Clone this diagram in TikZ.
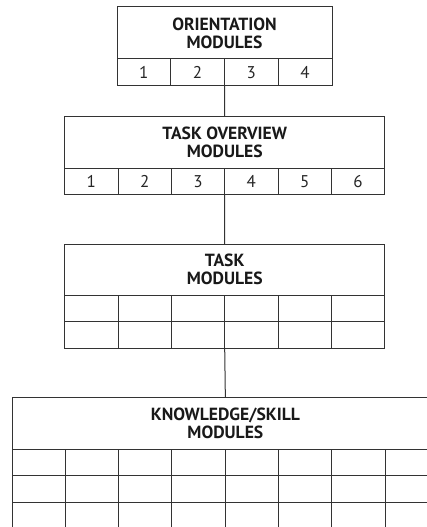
\documentclass[tikz,border=0pt]{standalone}
\usepackage{fontspec}
\setmainfont{PT Sans}
\begin{document}
\begin{tikzpicture}[x=1pt,y=-1pt,
  line width=1pt,
  every node/.style={inner sep=0pt,outer sep=0pt},
  titlebox/.style={draw=black!80,align=center,font=\fontsize{17.6}{18.3}\selectfont\bfseries,text=black!90},
  cell/.style={draw=black!80,minimum height=26.5pt,font=\fontsize{17}{18}\selectfont,text=black!85},
  link/.style={draw=black!80}]
\useasboundingbox (0,0) rectangle (427,527);
\clip (0,0) rectangle (427,527);
% Orientation
\node[titlebox,minimum width=215pt,minimum height=52pt] (ot) at (224.5,33) {ORIENTATION\\MODULES};
\foreach \i in {1,...,4}{
  \node[cell,minimum width=53.75pt] (o\i) at ({117+53.75*(\i-0.5)},72.25) {\i};
}
% Task overview
\node[titlebox,minimum width=320pt,minimum height=52pt] (vt) at (224.7,142) {TASK OVERVIEW\\MODULES};
\foreach \i in {1,...,6}{
  \node[cell,minimum width=53.33pt] (v\i) at ({64.7+53.33*(\i-0.5)},181.25) {\i};
}
% Task
\node[titlebox,minimum width=320pt,minimum height=51pt] (tt) at (224.7,269.5) {TASK\\MODULES};
\foreach \i in {1,...,6}{
  \node[cell,minimum width=53.33pt] (ta\i) at ({64.7+53.33*(\i-0.5)},308.25) {};
  \node[cell,minimum width=53.33pt] (tb\i) at ({64.7+53.33*(\i-0.5)},334.75) {};
}
% Knowledge/skill
\node[titlebox,minimum width=426.7pt,minimum height=52pt] (kt) at (225.35,423) {KNOWLEDGE/SKILL\\MODULES};
\foreach \i in {1,...,8}{
  \node[cell,minimum width=53.33pt] (ka\i) at ({12+53.33*(\i-0.5)},462.35) {};
  \node[cell,minimum width=53.33pt] (kb\i) at ({12+53.33*(\i-0.5)},489) {};
  \node[cell,minimum width=53.33pt] (kc\i) at ({12+53.33*(\i-0.5)},515.65) {};
}
% connectors
\draw[link] (o2.south east) -- (vt.north);
\draw[link] (v3.south east) -- (tt.north);
\draw[link] (tb3.south east) -- (kt.north);
\end{tikzpicture}
\end{document}
